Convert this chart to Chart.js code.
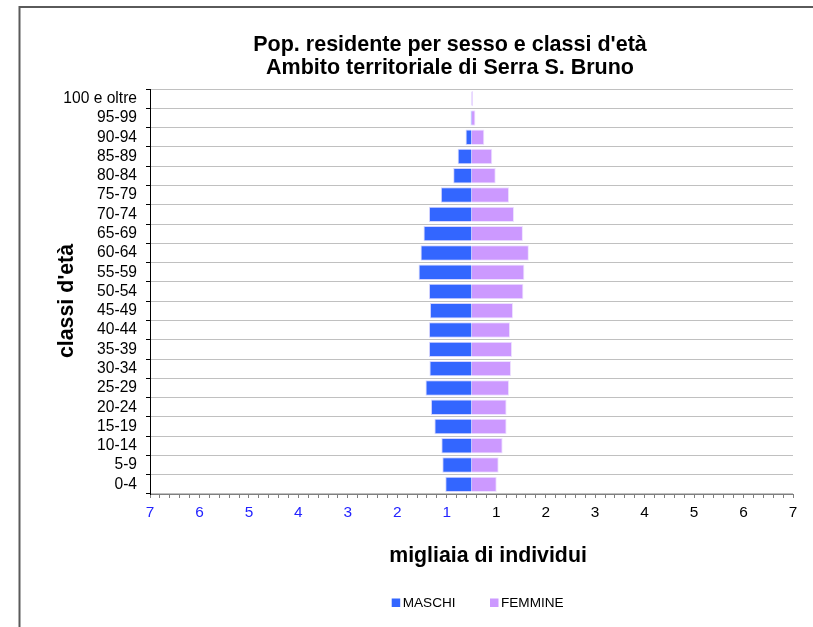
<!DOCTYPE html>
<html>
<head>
<meta charset="utf-8">
<title>Pop. residente per sesso e classi d'età</title>
<script src="https://cdn.jsdelivr.net/npm/chart.js"></script>
<style>
  body { margin: 0; background: #fff; }
  #wrap { width: 813px; height: 627px; }
</style>
</head>
<body>
<div id="wrap"><canvas id="piramide" width="813" height="627"></canvas></div>
<script>
// classi d'eta, dal basso verso l'alto
var classi = ["0-4", "5-9", "10-14", "15-19", "20-24", "25-29", "30-34", "35-39", "40-44", "45-49",
              "50-54", "55-59", "60-64", "65-69", "70-74", "75-79", "80-84", "85-89", "90-94", "95-99", "100 e oltre"];

// migliaia di individui
var maschi  = [0.53, 0.59, 0.61, 0.75, 0.82, 0.93, 0.85, 0.86, 0.86, 0.84,
               0.86, 1.07, 1.03, 0.97, 0.86, 0.62, 0.37, 0.28, 0.12, 0.02, 0.005];
var femmine = [0.51, 0.55, 0.63, 0.71, 0.71, 0.76, 0.80, 0.82, 0.78, 0.84,
               1.05, 1.07, 1.16, 1.04, 0.86, 0.76, 0.49, 0.42, 0.26, 0.08, 0.03];

// etichette dell'asse x (a sinistra blu, a destra nere)
var xEtichette = ["7", "6", "5", "4", "3", "2", "1", "1", "2", "3", "4", "5", "6", "7"];

var titolo  = ["Pop. residente per sesso e classi d'età", "Ambito territoriale di Serra S. Bruno"];
var titoloX = "migliaia di individui";
var titoloY = "classi d'età";

var FONT = '"Liberation Sans", Arial, sans-serif';

// tacche ogni 0.2, le etichette cadono sulle mezze unita
var xTacche = [];
for (var i = 0; i <= 65; i++) {
    xTacche.push(Math.round((-6.5 + i * 0.2) * 10) / 10);
}

var decorazioni = {
    id: 'decorazioni',
    beforeDraw: function(chart) {
        var ctx = chart.ctx;
        ctx.save();
        ctx.fillStyle = '#fff';
        ctx.fillRect(0, 0, chart.width, chart.height);
        // cornice
        ctx.strokeStyle = '#5a5a5a';
        ctx.lineWidth = 2;
        ctx.beginPath();
        ctx.moveTo(19.5, chart.height);
        ctx.lineTo(19.5, 7);
        ctx.lineTo(chart.width, 7);
        ctx.stroke();
        ctx.restore();
    },
    afterDraw: function(chart) {
        var ctx = chart.ctx;
        ctx.save();
        ctx.fillStyle = '#000';
        ctx.textAlign = 'center';
        ctx.textBaseline = 'alphabetic';
        ctx.font = 'bold 21.5px ' + FONT;
        ctx.fillText(titolo[0], 450, 51);
        ctx.fillText(titolo[1], 450, 74);

        ctx.font = 'bold 21.3px ' + FONT;
        ctx.fillText(titoloX, 488, 562);

        ctx.save();
        ctx.translate(73, 301);
        ctx.rotate(-Math.PI / 2);
        ctx.fillText(titoloY, 0, 0);
        ctx.restore();

        // legenda
        var legX = [391.7, 490];
        ctx.textAlign = 'left';
        ctx.font = '13.6px ' + FONT;
        chart.data.datasets.forEach(function(ds, k) {
            ctx.fillStyle = ds.backgroundColor;
            ctx.fillRect(legX[k], 598.5, 8.5, 8.5);
            ctx.fillStyle = '#000';
            ctx.fillText(ds.label, legX[k] + 11, 607.3);
        });
        ctx.restore();
    }
};

new Chart(document.getElementById("piramide"), {
    type: 'bar',
    data: {
        labels: classi,
        datasets: [
            {
                label: "MASCHI",
                data: maschi.map(function(v) { return -v; }),
                backgroundColor: "#3366ff",
                borderColor: "#d4d4ff",
                borderWidth: 1
            },
            {
                label: "FEMMINE",
                data: femmine,
                backgroundColor: "#cc99ff",
                borderColor: "#eee2ff",
                borderWidth: 1
            }
        ]
    },
    options: {
        indexAxis: 'y',
        responsive: false,
        animation: false,
        devicePixelRatio: 1,
        barPercentage: 0.8,
        categoryPercentage: 1,
        layout: { padding: { top: 89, left: 50, right: 20, bottom: 0 } },
        plugins: {
            legend: { display: false },
            title: { display: false },
            tooltip: { enabled: false }
        },
        scales: {
            x: {
                type: 'linear',
                stacked: true,
                min: -6.5,
                max: 6.5,
                afterBuildTicks: function(scale) {
                    scale.ticks = xTacche.map(function(v) { return { value: v }; });
                },
                afterFit: function(scale) { scale.height = 133; },
                grid: { drawOnChartArea: false, drawTicks: true, tickLength: 4, color: '#7f7f7f', tickColor: '#7f7f7f' },
                border: { display: true, color: '#7f7f7f', width: 1 },
                ticks: {
                    autoSkip: false,
                    maxRotation: 0,
                    minRotation: 0,
                    padding: 6,
                    font: { family: FONT, size: 15.4 },
                    color: function(c) { return c.tick && c.tick.value < 0 ? '#2323ff' : '#000'; },
                    callback: function(value) {
                        var pos = Math.round((value + 6.5) * 10) / 10;
                        if (Math.abs(pos - Math.round(pos)) > 0.01) return '';
                        return xEtichette[Math.round(pos)];
                    }
                }
            },
            y: {
                stacked: true,
                reverse: true,
                afterFit: function(scale) { scale.width = 100; },
                grid: { color: '#c0c0c0', tickColor: '#000', tickLength: 4 },
                border: { display: true, color: '#000', width: 1 },
                ticks: { autoSkip: false, padding: 9, color: '#000', font: { family: FONT, size: 15.6 } }
            }
        }
    },
    plugins: [decorazioni]
});
</script>
</body>
</html>
